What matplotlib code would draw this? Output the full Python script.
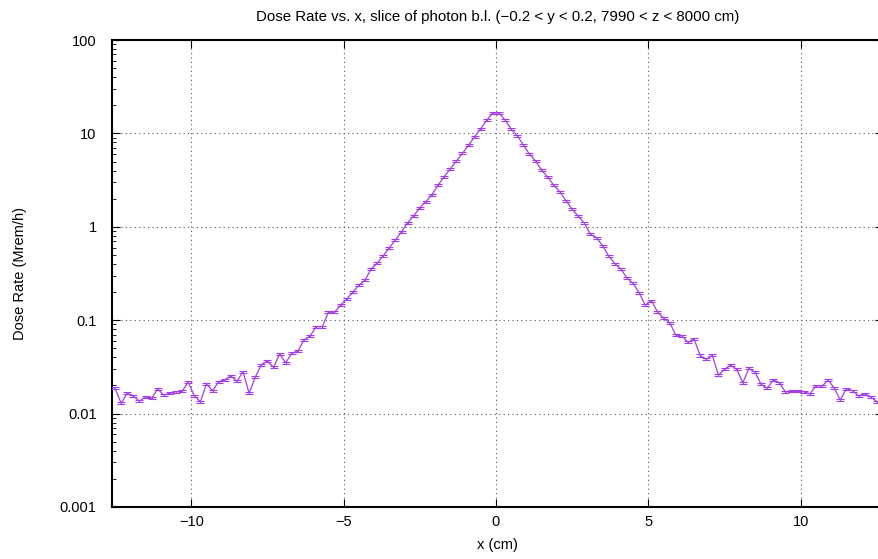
import numpy as np
import matplotlib
matplotlib.use("Agg")
import matplotlib.pyplot as plt
from matplotlib.ticker import FixedLocator, LogLocator, NullFormatter

plt.rcParams['font.family'] = ['Liberation Sans', 'DejaVu Sans']

# bin centres (cm), 0.2 cm bins
x_cm = np.round(np.arange(-12.5, 12.51, 0.2), 1)

# dose rate (Mrem/h); left half -12.5 .. -0.1
dose_left = [0.0187, 0.0129, 0.0165, 0.0154, 0.0136, 0.0152, 0.0146, 0.0183, 0.0158, 0.0165,
             0.0172, 0.0173, 0.0218, 0.0155, 0.0134, 0.0207, 0.0176, 0.0220, 0.0229, 0.0253,
             0.0222, 0.0281, 0.0165, 0.0245, 0.0334, 0.0366, 0.0313, 0.0434, 0.0351, 0.0442,
             0.0468, 0.0614, 0.0677, 0.0852, 0.0852, 0.1215, 0.1215, 0.145, 0.169, 0.199,
             0.236, 0.267, 0.353, 0.407, 0.49, 0.597, 0.722, 0.886, 1.10, 1.315,
             1.60, 1.86, 2.21, 2.80, 3.44, 4.16, 5.06, 6.12, 7.46, 9.22,
             11.2, 13.9, 16.6]
# right half 0.1 .. 12.5
dose_right = [16.5, 13.9, 11.1, 9.45, 7.5, 6.0, 5.06, 4.03, 3.39, 2.78,
              2.36, 1.90, 1.54, 1.30, 1.09, 0.831, 0.764, 0.627, 0.487, 0.403,
              0.353, 0.283, 0.248, 0.196, 0.145, 0.162, 0.123, 0.105, 0.094, 0.0694,
              0.0682, 0.058, 0.0629, 0.0419, 0.0382, 0.0421, 0.0258, 0.0298, 0.0329, 0.0298,
              0.0214, 0.0305, 0.0277, 0.0206, 0.0187, 0.0229, 0.0214, 0.0170, 0.0173, 0.0173,
              0.0172, 0.0162, 0.0199, 0.0197, 0.0229, 0.0187, 0.0140, 0.0185, 0.0176, 0.0155,
              0.0163, 0.0150, 0.0134]
dose = np.array(dose_left + dose_right)
rel_err = 0.025  # estimated relative error

y_ticks = [0.001, 0.01, 0.1, 1, 10, 100]
y_labels = ["0.001", "0.01", "0.1", "1", "10", "100"]
x_ticks = [-10, -5, 0, 5, 10]
x_labels = ["\u221210", "\u22125", "0", "5", "10"]

fig = plt.figure(figsize=(8.79, 5.59), dpi=100)
ax = fig.add_axes([112 / 879, 52 / 559, 771 / 879, 467 / 559])

color = "#a33ee6"
ax.errorbar(x_cm, dose, yerr=rel_err * dose, color=color, lw=0.9,
            elinewidth=0.8, capsize=3.2, capthick=0.8, zorder=3)

ax.set_yscale("log")
ax.set_ylim(0.001, 100)
ax.set_xlim(-12.6, 12.7)
ax.yaxis.set_major_locator(FixedLocator(y_ticks))
ax.set_yticklabels(y_labels)
ax.yaxis.set_minor_locator(LogLocator(base=10, subs=np.arange(2, 10)))
ax.yaxis.set_minor_formatter(NullFormatter())
ax.set_xticks(x_ticks)
ax.set_xticklabels(x_labels)

ax.tick_params(which="both", direction="in", top=True, right=True, labelsize=10.5, colors="black")
ax.tick_params(which="major", length=6, width=0.8)
ax.tick_params(which="minor", length=3, width=0.6)
ax.tick_params(axis="x", pad=6)
ax.tick_params(axis="y", pad=11)

ax.grid(True, which="major", color="#555555", linestyle=(0, (1, 3)), linewidth=0.8)
for s in ax.spines.values():
    s.set_linewidth(1.5)

ax.set_title("Dose Rate vs. x, slice of photon b.l. (\u22120.2 < y < 0.2, 7990 < z < 8000 cm)",
             fontsize=10.8, pad=14)
ax.set_xlabel("x (cm)", fontsize=10.5, labelpad=6)
ax.set_ylabel("Dose Rate (Mrem/h)", fontsize=10.5, labelpad=24)

fig.savefig("out.png", dpi=100)
